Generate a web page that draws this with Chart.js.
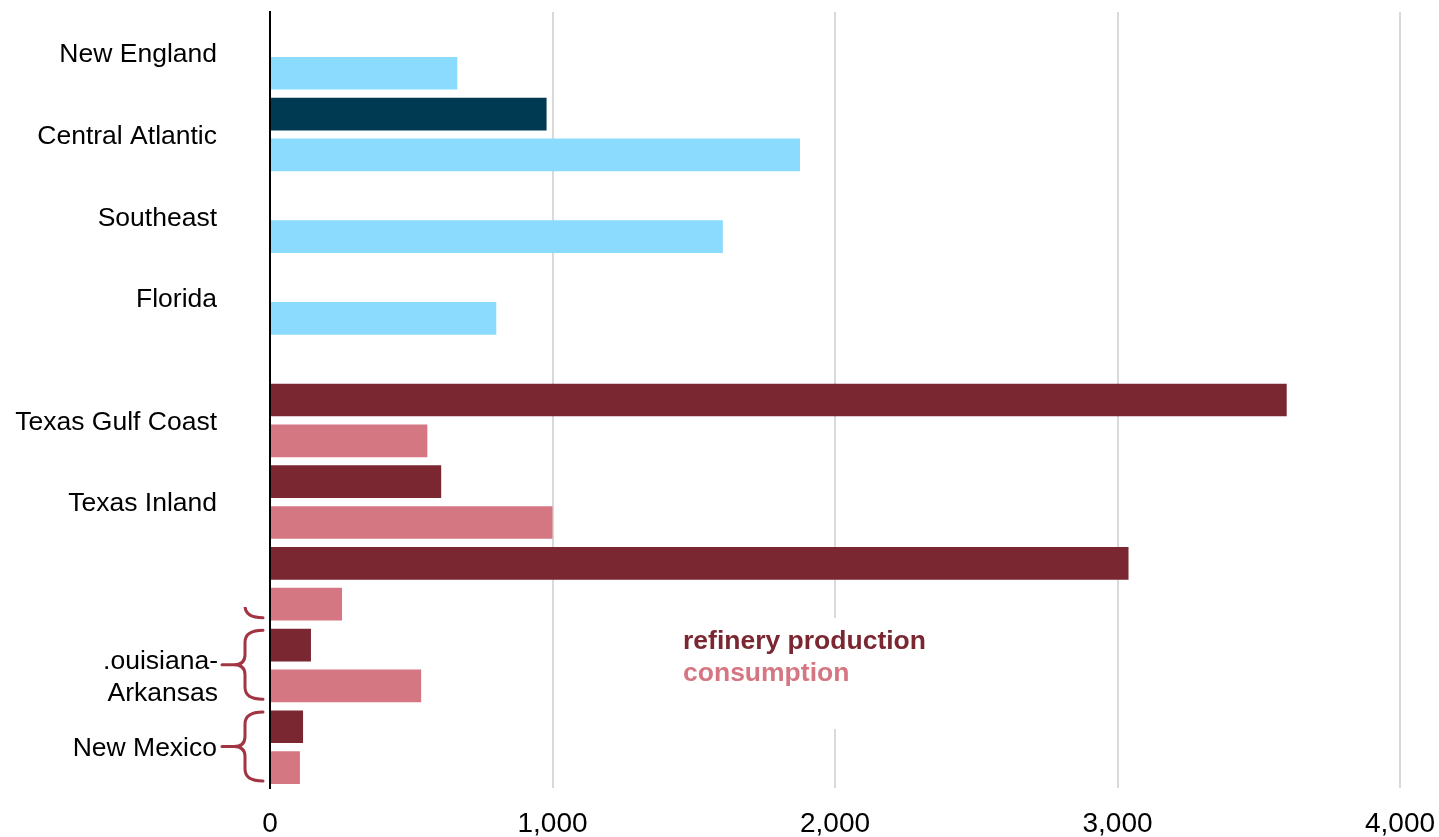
<!DOCTYPE html>
<html>
<head>
<meta charset="utf-8">
<script src="https://cdn.jsdelivr.net/npm/chart.js@4"></script>
<style>
  html, body { margin: 0; padding: 0; background: #fff; }
  #wrap { width: 1439px; height: 837px; }
</style>
</head>
<body>
<div id="wrap"><canvas id="refChart" width="1439" height="837"></canvas></div>
<script>
// regions, top to bottom
const regions = [
  "New England", "Central Atlantic", "Southeast", "Florida",
  "Texas Gulf Coast", "Texas Inland", "Louisiana Gulf Coast",
  "Louisiana-Arkansas", "New Mexico",
];
// the text that is actually visible next to each pair of bars
const regionLabels = [
  ["New England"], ["Central Atlantic"], ["Southeast"], ["Florida"],
  ["Texas Gulf Coast"], ["Texas Inland"], [],
  [".ouisiana-", "Arkansas"], ["New Mexico"],
];
const regionGroup = ["east", "east", "east", "east", "gulf", "gulf", "gulf", "gulf", "gulf"];

const production = [null, 979, null, null, 3599, 606, 3039, 145, 117];
const consumption = [663, 1876, 1603, 801, 557, 1000, 255, 535, 106];

const xTicks = [0, 1000, 2000, 3000, 4000];
const legendLines = ["refinery production", "consumption"];

const colors = {
  east: { prod: "#003a52", cons: "#8adbfe" },
  gulf: { prod: "#7a2732", cons: "#d57782" },
};
const braceColor = "#a23543";

// one row per bar; an empty row separates the east coast from the gulf
const rowRegion = [];
const rowKind = [];
regions.forEach((r, i) => {
  rowRegion.push(i); rowKind.push("prod");
  rowRegion.push(i); rowKind.push("cons");
  if (i === 3) { rowRegion.push(null); rowKind.push(null); }
});
const rows = rowRegion.map((_, k) => "r" + k);
const prodRows = rowRegion.map((ri, k) => (ri !== null && rowKind[k] === "prod" ? production[ri] : null));
const consRows = rowRegion.map((ri, k) => (ri !== null && rowKind[k] === "cons" ? consumption[ri] : null));
const rowColor = rowRegion.map((ri, k) => (ri === null ? "#fff" : colors[regionGroup[ri]][rowKind[k]]));

const firstRow = (ri) => rowRegion.indexOf(ri);

const fontFamily = "'Liberation Sans', Arial, sans-serif";
const labelFont = "26.5px " + fontFamily;

const annotations = {
  id: "annotations",
  afterDatasetsDraw(chart) {
    const { ctx, scales: { x, y } } = chart;
    const slot = y.getPixelForValue(1) - y.getPixelForValue(0);

    // region names, centred on their pair of bars
    ctx.save();
    ctx.font = labelFont;
    ctx.fillStyle = "#000";
    ctx.textAlign = "right";
    ctx.textBaseline = "middle";
    regionLabels.forEach((lines, ri) => {
      const r = firstRow(ri);
      const mid = (y.getPixelForValue(r) + y.getPixelForValue(r + 1)) / 2 + 2;
      if (lines.length === 1) {
        ctx.fillText(lines[0], 217, mid);
      } else {
        lines.forEach((t, j) => ctx.fillText(t, 218, mid - 6 + j * 32));
      }
    });
    ctx.restore();

    // braces for the small gulf regions
    const drawBrace = (ri, clipTop) => {
      const r = firstRow(ri);
      const top = y.getPixelForValue(r) - slot * 0.36;
      const bot = y.getPixelForValue(r + 1) + slot * 0.33;
      const mid = (top + bot) / 2;
      const xs = 245, xr = 263, xt = 222;
      ctx.save();
      if (clipTop) {
        ctx.beginPath();
        ctx.rect(0, clipTop, chart.width, chart.height - clipTop);
        ctx.clip();
      }
      ctx.strokeStyle = braceColor;
      ctx.lineWidth = 3;
      ctx.lineCap = "round";
      ctx.beginPath();
      ctx.moveTo(xr, top);
      ctx.quadraticCurveTo(xs, top, xs, top + 12);
      ctx.lineTo(xs, mid - 10);
      ctx.quadraticCurveTo(xs, mid, xt + 12, mid);
      ctx.lineTo(xt, mid);
      ctx.moveTo(xt + 12, mid);
      ctx.quadraticCurveTo(xs, mid, xs, mid + 10);
      ctx.lineTo(xs, bot - 12);
      ctx.quadraticCurveTo(xs, bot, xr, bot);
      ctx.stroke();
      ctx.restore();
    };
    drawBrace(6, 607);
    drawBrace(7);
    drawBrace(8);

    // in-plot legend on a white patch
    const lx = x.getPixelForValue(1462);
    const ly = y.getPixelForValue(firstRow(7)) - 3;
    ctx.save();
    ctx.fillStyle = "#fff";
    ctx.fillRect(lx - 8, ly - 24, 262, 111);
    ctx.font = "bold 26.5px " + fontFamily;
    ctx.textAlign = "left";
    ctx.textBaseline = "middle";
    ctx.fillStyle = colors.gulf.prod;
    ctx.fillText(legendLines[0], lx, ly);
    ctx.fillStyle = colors.gulf.cons;
    ctx.fillText(legendLines[1], lx, ly + 32);
    ctx.restore();
  },
};

new Chart(document.getElementById("refChart"), {
  type: "bar",
  data: {
    labels: rows,
    datasets: [
      {
        label: legendLines[0],
        data: prodRows,
        backgroundColor: rowColor,
        barPercentage: 0.8,
        categoryPercentage: 1,
      },
      {
        label: legendLines[1],
        data: consRows,
        backgroundColor: rowColor,
        barPercentage: 0.8,
        categoryPercentage: 1,
      },
    ],
  },
  plugins: [annotations],
  options: {
    indexAxis: "y",
    responsive: false,
    animation: false,
    layout: { padding: { left: 270, right: 39, top: 12, bottom: 0 } },
    plugins: {
      legend: { display: false },
      tooltip: { enabled: false },
    },
    scales: {
      x: {
        min: 0,
        max: 4000,
        afterBuildTicks: (scale) => {
          scale.ticks = xTicks.map((v) => ({ value: v }));
        },
        afterFit: (scale) => {
          scale.height = 49;
          scale.paddingLeft = 0;
          scale.paddingRight = 0;
        },
        ticks: {
          color: "#000",
          padding: 19,
          font: { family: fontFamily, size: 28 },
          callback: (v) => v.toLocaleString("en-US"),
        },
        grid: { color: "#d9d9d9", lineWidth: 2, drawTicks: false },
        border: { display: false },
      },
      y: {
        stacked: true,
        afterFit: (scale) => { scale.width = 0; },
        ticks: { display: false },
        grid: { display: false, drawTicks: false },
        border: { display: true, color: "#000", width: 2 },
      },
    },
  },
});
</script>
</body>
</html>
